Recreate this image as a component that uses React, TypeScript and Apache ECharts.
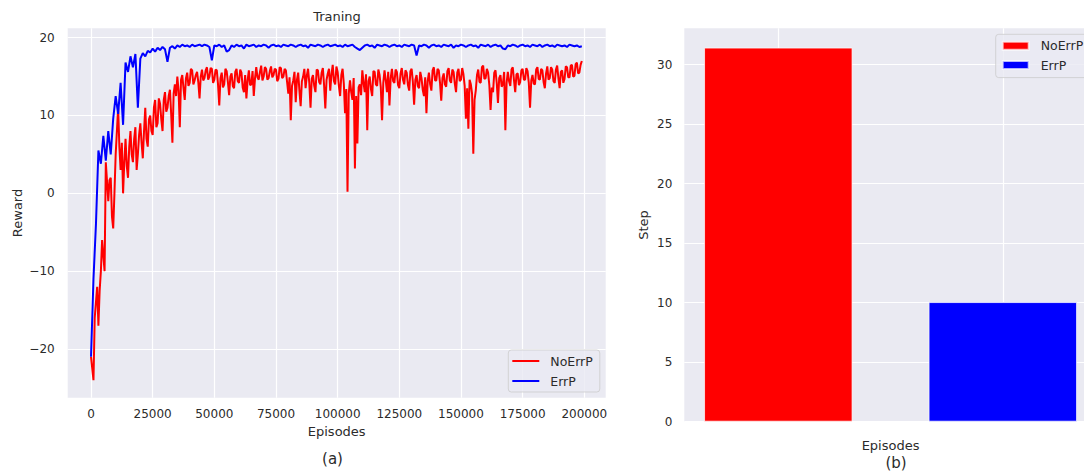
import { useEffect, useRef } from "react";
import * as echarts from "echarts";

// NoErrP reward, sampled every 500 episodes from episode 0.
const NO_ERRP_STEP = 500;
const noErrPReward = [
  -21, -22.5, -24, -16, -14, -12, -17, -12.5, -10, -6,
  -8, -10, 4, 1.5, -1, 1.7, 2, -3, -4.5, 0,
  5, 8, 11, 6, 3, 6.5, 0, 4, 7, 3.5,
  2, 6, 8, 5, 4, 7, 8.5, 3, 5, 7.5,
  9, 6.5, 4.5, 8, 11, 7, 6, 9.5, 10, 8,
  7.5, 11, 12, 8.5, 9, 12.2, 11.5, 9.5, 8, 12,
  13, 10.5, 11, 12.5, 13.3, 10.2, 6.5, 12.8, 14, 12.5,
  15, 13.2, 8.5, 14.6, 15.2, 13.5, 12, 14.8, 15.5, 13.8,
  14.2, 16, 15.8, 14, 14.5, 15.2, 15.6, 14.3, 12.2, 15,
  15.9, 14.5, 14.8, 15.8, 16.2, 14.6, 15, 16.1, 16, 14.2,
  14.6, 15.9, 15.8, 14, 11.3, 14.8, 15.5, 13.6, 14, 16,
  15.7, 14.3, 12.6, 15, 15.4, 13.8, 13.5, 15.6, 16, 14.4,
  14.2, 15.9, 15.5, 13.6, 13, 15.2, 12.2, 14.5, 15.8, 13.9,
  14, 15.7, 12.5, 14.8, 16.2, 14.9, 14.6, 15.6, 16.4, 14.5,
  15, 16.2, 16, 14.6, 14.8, 15.7, 16.3, 14.9, 15.2, 16,
  15.9, 14.4, 14.7, 16.2, 16.1, 14.8, 15, 16, 15.8, 14.3,
  12.8, 14.9, 9.4, 13.8, 14.5, 15.6, 11.7, 14.6, 15.5, 13.2,
  11.2, 14.4, 15, 16, 13.5, 15.1, 16, 14.2, 11, 14.7,
  15.2, 13.8, 13, 15.9, 15.8, 14.3, 14, 15.5, 16.1, 13.9,
  10.9, 14.6, 15.4, 16, 13.2, 15.3, 16.5, 14.4, 14, 16.3,
  15.6, 13.8, 12.5, 15.2, 16, 14.1, 10.3, 13.4, 0.2, 12.8,
  14.5, 13, 12, 14.8, 3.2, 12.5, 6.4, 13.6, 14, 12.6,
  15.8, 14.2, 13, 15.3, 8.1, 14.4, 15, 13.4, 12.5, 15.7,
  15.6, 14, 13.8, 15.9, 15.2, 13.6, 9.4, 14.2, 15.8, 14.5,
  13, 15.6, 11.3, 14.8, 16, 14.4, 14.2, 15.9, 15.6, 13.9,
  13.5, 15.4, 16.1, 14.6, 14, 15.8, 15.5, 13.9, 13.2, 15.7,
  16, 14.3, 11.4, 14.6, 15.2, 13.8, 13.5, 15.6, 14.8, 13.3,
  12.5, 14.9, 10.3, 14.4, 15.5, 14, 13.2, 15.8, 16.2, 14.5,
  14.5, 16, 15.8, 14.2, 11.9, 14.8, 15.4, 14, 13.7, 15.7,
  16.1, 14.5, 14.2, 15.9, 15.6, 14.1, 13, 15.5, 16, 14.4,
  14.6, 16.1, 15.3, 13.8, 9.6, 13.5, 8.3, 14.6, 14, 12.8,
  5.1, 12, 13.2, 15.2, 15.9, 14.3, 14.2, 16.2, 16.4, 14.7,
  14.8, 16, 15.5, 13.9, 10.7, 13.6, 13, 15.5, 15.8, 14.2,
  11.6, 14.8, 15.2, 13.7, 14, 15.6, 8.1, 14.2, 15.6, 14.4,
  13.8, 15.9, 16.2, 14.5, 13, 15.3, 15.4, 13.9, 14.3, 15.8,
  16, 14.6, 14.6, 16.1, 15.7, 14.2, 11, 14.5, 15.2, 14.1,
  14, 15.9, 16.2, 14.7, 14.6, 16, 15.8, 14.3, 13.5, 15.4,
  16.3, 14.6, 14.8, 16.2, 15.9, 14.4, 14.2, 15.9, 16.4, 14.8,
  13.5, 15.6, 15.8, 14.2, 14.7, 16.3, 16.2, 14.9, 14.9, 16.4,
  16.5, 15, 15.1, 16.6, 16.8, 15.4, 15.5, 16.5, 17,
];

// ErrP reward, sampled every 1000 episodes from episode 0.
const ERRP_STEP = 1000;
const errPReward = [
  -21, -11, -4, 5.5, 3.8, 7.4, 4.2, 8, 5, 9.6,
  12.5, 10.2, 14.2, 8.8, 16.8, 15.6, 17.6, 16.2, 17.9, 11,
  17.3, 18, 17.6, 18.3, 18.1, 18.6, 18.2, 18.7, 18.4, 18.8,
  18.5, 16.9, 18.7, 18.9, 18.6, 19, 18.8, 19.1, 18.9, 19,
  18.8, 19.1, 18.9, 19, 19.1, 18.9, 19.1, 19, 18.8, 17.1,
  19, 18.9, 19.1, 18.8, 19, 18.2, 18.4, 19, 18.8, 19.1,
  18.9, 19, 18.6, 19.1, 18.9, 19, 19.1, 18.8, 19, 18.9,
  19.1, 19, 18.7, 19, 19.1, 18.9, 19, 18.8, 19.1, 19,
  18.9, 19.1, 19, 18.8, 19, 19.1, 18.9, 19, 18.7, 19.1,
  19, 18.9, 19.1, 19, 18.8, 19, 19.1, 18.9, 19, 19.1,
  18.9, 19, 18.8, 19.1, 18.9, 19, 19.1, 18.8, 18.6, 18.4,
  18.7, 19, 19.1, 18.9, 19, 18.7, 19.1, 19, 18.9, 19.1,
  19, 18.8, 19, 19.1, 18.9, 19, 18.8, 19.1, 19, 18.9,
  19.1, 19, 17.7, 19, 18.9, 19.1, 19, 18.7, 19, 19.1,
  18.9, 19, 18.8, 19.1, 19, 18.9, 19.1, 18.7, 19, 18.9,
  19.1, 19, 18.8, 19, 19.1, 18.9, 19, 18.7, 19.1, 19,
  18.9, 19.1, 18.8, 19, 19.1, 18.9, 19, 18.6, 18.5, 19,
  18.9, 19.1, 19, 18.8, 19, 19.1, 18.9, 19, 18.8, 19.1,
  19, 18.9, 19.1, 18.8, 19, 19.1, 18.9, 19, 18.8, 19.1,
  19, 18.9, 19, 18.8, 19.1, 19, 18.9, 19, 18.8, 18.9,
];

const episodeTicks = [0, 25000, 50000, 75000, 100000, 125000, 150000, 175000, 200000];
const rewardTicks = [-20, -10, 0, 10, 20];
const stepTicks = [0, 5, 10, 15, 20, 25, 30];

// Average steps per episode for the two settings (bar chart).
const methodNames = ["NoErrP", "ErrP"];
const meanSteps = [31.43, 10.05];

const FONT = "DejaVu Sans";
const TEXT = "#2b2b2b";
const PANEL_BG = "#EAEAF2";
const RED = "#ff0000";
const BLUE = "#0000ff";
const BAR_SUFFIX = "-step";

const minusSign = (v: number) => String(v).replace("-", "\u2212");

export default function App() {
  const ref = useRef<HTMLDivElement>(null);

  useEffect(() => {
    document.body.style.margin = "0";
    if (!ref.current) return;
    const chart = echarts.init(ref.current, null, { renderer: "svg" });

    const toPoints = (arr: number[], step: number) => arr.map((r, i) => [i * step, r]);

    const axisText = { color: TEXT, fontFamily: FONT, fontSize: 12 };
    const nameText = { color: TEXT, fontFamily: FONT, fontSize: 13 };
    const gridLine = { show: true, lineStyle: { color: "#ffffff", width: 1.2 } };

    const option: any = {
      animation: false,
      backgroundColor: "#ffffff",
      textStyle: { fontFamily: FONT },
      grid: [
        {
          left: 67.7, top: 28.3, width: 538, height: 369.4,
          show: true, backgroundColor: PANEL_BG, borderWidth: 0,
          outerBoundsMode: "none",
        },
        {
          left: 684.3, top: 28.3, width: 412.5, height: 393.4,
          show: true, backgroundColor: PANEL_BG, borderWidth: 0,
          outerBoundsMode: "none",
        },
      ],
      xAxis: [
        {
          type: "value", gridIndex: 0, min: -9450, max: 208680,
          axisLine: { show: false },
          axisTick: { show: false, customValues: episodeTicks },
          axisLabel: {
            ...axisText, margin: 10, customValues: episodeTicks,
            formatter: (v: number) => String(v),
          },
          splitLine: gridLine,
          name: "Episodes", nameLocation: "middle", nameGap: 26,
          nameTextStyle: nameText,
        },
        {
          type: "value", gridIndex: 1, min: -0.4187, max: 1.4187,
          axisLine: { show: false },
          axisTick: { show: false, customValues: [0, 1] },
          axisLabel: { show: false, customValues: [0, 1] },
          splitLine: gridLine,
          name: "Episodes", nameLocation: "middle", nameGap: 17,
          nameTextStyle: nameText,
        },
      ],
      yAxis: [
        {
          type: "value", gridIndex: 0, min: -26.25, max: 21.2,
          axisLine: { show: false },
          axisTick: { show: false, customValues: rewardTicks },
          axisLabel: {
            ...axisText, margin: 13, customValues: rewardTicks,
            formatter: (v: number) => minusSign(v),
          },
          splitLine: gridLine,
          name: "Reward", nameLocation: "middle", nameGap: 44,
          nameTextStyle: nameText,
        },
        {
          type: "value", gridIndex: 1, min: 0, max: 33.05,
          axisLine: { show: false },
          axisTick: { show: false, customValues: stepTicks },
          axisLabel: { ...axisText, margin: 12, customValues: stepTicks },
          splitLine: gridLine,
          name: "Step", nameLocation: "middle", nameGap: 34,
          nameTextStyle: nameText,
        },
      ],
      legend: [
        {
          orient: "vertical", left: 508.3, top: 350,
          data: methodNames.map((n) => ({ name: n, icon: "rect" })),
          itemWidth: 27, itemHeight: 2, itemGap: 5,
          padding: [3.5, 7, 3.5, 4],
          backgroundColor: "rgba(234,234,242,0.8)",
          borderColor: "rgba(204,204,204,0.8)", borderWidth: 1, borderRadius: 3,
          textStyle: { color: TEXT, fontFamily: FONT, fontSize: 12.5, lineHeight: 15, padding: [0, 0, 0, 6] },
          selectedMode: false,
        },
        {
          orient: "vertical", left: 995.7, top: 34.3,
          data: methodNames.map((n) => ({ name: n + BAR_SUFFIX, icon: "rect" })),
          formatter: (name: string) => name.replace(BAR_SUFFIX, ""),
          itemWidth: 26, itemHeight: 8, itemGap: 4.3,
          padding: [4, 8, 5, 6],
          backgroundColor: "rgba(234,234,242,0.8)",
          borderColor: "rgba(204,204,204,0.8)", borderWidth: 1, borderRadius: 3,
          textStyle: { color: TEXT, fontFamily: FONT, fontSize: 12.5, lineHeight: 15, padding: [0, 0, 0, 7] },
          selectedMode: false,
        },
      ],
      series: [
        {
          type: "line", name: methodNames[0], xAxisIndex: 0, yAxisIndex: 0,
          data: toPoints(noErrPReward, NO_ERRP_STEP), showSymbol: false, symbol: "none",
          lineStyle: { color: RED, width: 2 }, itemStyle: { color: RED },
          z: 2,
        },
        {
          type: "line", name: methodNames[1], xAxisIndex: 0, yAxisIndex: 0,
          data: toPoints(errPReward, ERRP_STEP), showSymbol: false, symbol: "none",
          lineStyle: { color: BLUE, width: 2 }, itemStyle: { color: BLUE },
          z: 3,
        },
        {
          type: "bar", name: methodNames[0] + BAR_SUFFIX, xAxisIndex: 1, yAxisIndex: 1,
          data: [[0, meanSteps[0]]], barWidth: 148.5, barGap: "-100%",
          itemStyle: { color: RED, borderColor: "rgba(255,255,255,0.7)", borderWidth: 1 },
        },
        {
          type: "bar", name: methodNames[1] + BAR_SUFFIX, xAxisIndex: 1, yAxisIndex: 1,
          data: [[1, meanSteps[1]]], barWidth: 148.5, barGap: "-100%",
          itemStyle: { color: BLUE, borderColor: "rgba(255,255,255,0.7)", borderWidth: 1 },
        },
      ],
      graphic: [
        {
          type: "text", x: 337, y: 16,
          style: { text: "Traning", fill: TEXT, font: `13px "${FONT}"`, align: "center", verticalAlign: "middle" },
        },
        {
          type: "text", x: 332.5, y: 459,
          style: { text: "(a)", fill: TEXT, font: `15px "${FONT}"`, align: "center", verticalAlign: "middle" },
        },
        {
          type: "text", x: 896, y: 462.5,
          style: { text: "(b)", fill: TEXT, font: `15px "${FONT}"`, align: "center", verticalAlign: "middle" },
        },
      ],
    };

    chart.setOption(option);
    return () => chart.dispose();
  }, []);

  return (
    <div
      ref={ref}
      style={{ position: "absolute", left: 0, top: 0, width: 1084, height: 476 }}
    />
  );
}
